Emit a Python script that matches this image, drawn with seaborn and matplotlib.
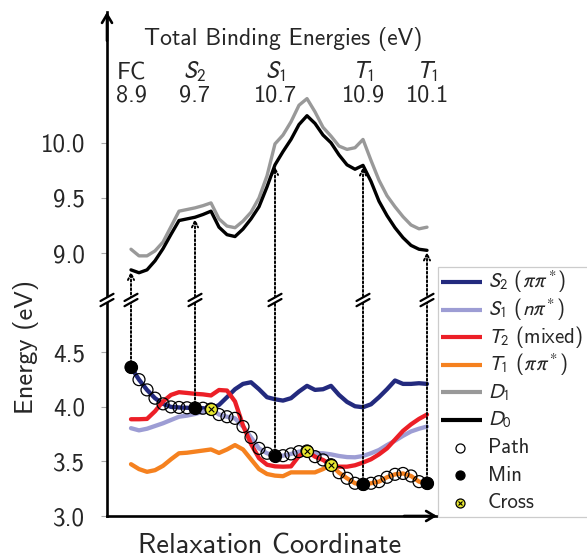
import numpy as np
import pandas as pd
import matplotlib
matplotlib.use("Agg")
import matplotlib.pyplot as plt
import matplotlib.transforms as mtransforms
from matplotlib.lines import Line2D
from matplotlib.patches import ConnectionPatch, Polygon, Rectangle
import seaborn as sns

# ---------------- data ----------------
coord = list(range(38))

S2 = [4.364, 4.25, 4.156, 4.08, 4.028, 4.0, 3.995, 3.992, 3.99, 3.988, 3.98, 4.018, 4.089,
      4.162, 4.211, 4.226, 4.162, 4.089, 4.07, 4.058, 4.08, 4.141, 4.193, 4.156, 4.162,
      4.193, 4.11, 4.046, 4.006, 3.997, 4.024, 4.089, 4.162, 4.242, 4.211, 4.211, 4.217, 4.211]
S1 = [3.805, 3.785, 3.80, 3.825, 3.85, 3.88, 3.91, 3.92, 3.935, 3.955, 3.98, 3.93, 3.91,
      3.895, 3.82, 3.72, 3.62, 3.575, 3.553, 3.553, 3.569, 3.59, 3.596, 3.578, 3.575,
      3.565, 3.55, 3.54, 3.538, 3.55, 3.575, 3.605, 3.65, 3.69, 3.735, 3.775, 3.80, 3.82]
T2 = [3.887, 3.887, 3.89, 3.96, 4.05, 4.11, 4.135, 4.128, 4.12, 4.115, 4.105, 4.155, 4.15,
      4.05, 3.83, 3.66, 3.53, 3.47, 3.455, 3.452, 3.455, 3.55, 3.596, 3.544, 3.514,
      3.47, 3.452, 3.452, 3.465, 3.49, 3.52, 3.565, 3.62, 3.70, 3.78, 3.84, 3.89, 3.93]
T1 = [3.475, 3.43, 3.405, 3.42, 3.46, 3.52, 3.575, 3.58, 3.59, 3.60, 3.61, 3.578, 3.61,
      3.65, 3.61, 3.52, 3.43, 3.385, 3.37, 3.365, 3.40, 3.40, 3.40, 3.40, 3.43,
      3.47, 3.397, 3.346, 3.30, 3.29, 3.30, 3.315, 3.355, 3.382, 3.39, 3.367, 3.315, 3.30]
D1 = [9.035, 8.975, 8.975, 9.02, 9.10, 9.24, 9.38, 9.395, 9.41, 9.43, 9.455, 9.31, 9.245,
      9.23, 9.29, 9.37, 9.50, 9.70, 9.99, 10.07, 10.19, 10.34, 10.40, 10.28, 10.14,
      10.06, 9.97, 9.94, 9.955, 10.03, 9.84, 9.66, 9.52, 9.42, 9.33, 9.255, 9.22, 9.235]
D0 = [8.848, 8.822, 8.848, 8.93, 9.04, 9.17, 9.295, 9.31, 9.325, 9.35, 9.38, 9.235, 9.167,
      9.15, 9.218, 9.31, 9.42, 9.60, 9.80, 9.92, 10.03, 10.165, 10.245, 10.175, 10.07,
      10.0, 9.89, 9.80, 9.76, 9.795, 9.65, 9.47, 9.34, 9.23, 9.14, 9.07, 9.035, 9.025]

# state followed by the relaxation path at each point
path_state = ["S2"] * 10 + ["S1"] * 12 + ["T2"] * 3 + ["T1"] * 13
min_idx = [0, 8, 18, 29, 37]
cross_idx = [10, 22, 25]
min_labels = ["FC", "$S_2$", "$S_1$", "$T_1$", "$T_1$"]
binding = ["8.9", "9.7", "10.7", "10.9", "10.1"]

low_states = ["S2", "S1", "T2", "T1"]
up_states = ["D1", "D0"]
legend_labels = {"S2": r"$S_2$ ($\pi\pi^*$)", "S1": r"$S_1$ ($n\pi^*$)",
                 "T2": r"$T_2$ (mixed)", "T1": r"$T_1$ ($\pi\pi^*$)",
                 "D1": r"$D_1$", "D0": r"$D_0$"}
marker_labels = ["Path", "Min", "Cross"]

colors = {"S2": "#232a7e", "S1": "#9d9dd4", "T2": "#ec1f27", "T1": "#f5811f",
          "D1": "#999999", "D0": "#000000"}
cross_color = "#e8e830"

series = {"S2": S2, "S1": S1, "T2": T2, "T1": T1, "D1": D1, "D0": D0}

df = pd.concat([pd.DataFrame({"coord": coord, "energy": series[s], "state": s})
                for s in series], ignore_index=True)
path_df = pd.DataFrame({"coord": coord,
                        "energy": [series[s][i] for i, s in zip(coord, path_state)],
                        "state": path_state})
min_df = path_df.iloc[min_idx]
cross_df = path_df.iloc[cross_idx]

# ---------------- style ----------------
sns.set_theme(style="white")
plt.rcParams["font.family"] = ["cmss10", "DejaVu Sans"]
plt.rcParams["mathtext.fontset"] = "stixsans"
plt.rcParams["axes.unicode_minus"] = False
plt.rcParams["axes.formatter.use_mathtext"] = True

W, H = 587, 557
fig = plt.figure(figsize=(W / 100, H / 100), dpi=100)

def fx(x):
    return x / W

def fy(y):
    return 1 - y / H

left, right = 107, 437
y_break, y_bottom, y_top = 300, 516, 12

ax_low = fig.add_axes([fx(left), fy(y_bottom), fx(right - left), (y_bottom - y_break) / H])
ax_up = fig.add_axes([fx(left), fy(y_break), fx(right - left), (y_break - y_top) / H])

xlim = (-3, 38.25)
for ax in (ax_low, ax_up):
    ax.set_xlim(*xlim)
    ax.set_xticks([])
    ax.patch.set_alpha(0)
    for sp in ax.spines.values():
        sp.set_linewidth(1.9)
        sp.set_color("black")
    ax.spines["top"].set_visible(False)
    ax.spines["right"].set_visible(False)
    ax.tick_params(axis="y", direction="out", length=4, width=0.8, color="#aaaaaa",
                   labelsize=18, pad=12, left=True)
ax_up.spines["bottom"].set_visible(False)

ax_low.set_ylim(3.0, 4.98)
ax_low.set_yticks([3.0, 3.5, 4.0, 4.5])
ax_low.set_yticklabels(["3.0", "3.5", "4.0", "4.5"])
ax_up.set_ylim(8.575, 11.185)
ax_up.set_yticks([9.0, 9.5, 10.0])
ax_up.set_yticklabels(["9.0", "9.5", "10.0"])

# lines
sns.lineplot(data=df[df.state.isin(low_states)], x="coord", y="energy", hue="state",
             hue_order=low_states, palette=colors, linewidth=3.1, ax=ax_low,
             legend=False, sort=False, zorder=2)
sns.lineplot(data=df[df.state.isin(up_states)], x="coord", y="energy", hue="state",
             hue_order=up_states, palette=colors, linewidth=2.4, ax=ax_up,
             legend=False, sort=False, zorder=2)

# path markers
msize = 74
sns.scatterplot(data=path_df, x="coord", y="energy", ax=ax_low, s=msize, marker="o",
                facecolor="none", edgecolor="black", linewidth=0.9, zorder=4, legend=False)
sns.scatterplot(data=min_df, x="coord", y="energy", ax=ax_low, s=msize, marker="o",
                color="black", edgecolor="black", linewidth=0.9, zorder=5, legend=False)
sns.scatterplot(data=cross_df, x="coord", y="energy", ax=ax_low, s=msize, marker="o",
                color=cross_color, edgecolor="black", linewidth=0.9, zorder=5, legend=False)
sns.scatterplot(data=cross_df, x="coord", y="energy", ax=ax_low, s=16, marker="x",
                color="black", linewidth=0.8, zorder=6, legend=False)
for ax in (ax_low, ax_up):
    ax.set_xlabel("")
    ax.set_ylabel("")

# dotted arrows from minima up to D0
for i in min_idx:
    con = ConnectionPatch(xyA=(i, path_df.energy[i]), coordsA=ax_low.transData,
                          xyB=(i, D0[i] - 0.015), coordsB=ax_up.transData,
                          arrowstyle="->,head_length=0.45,head_width=0.22",
                          linestyle=(0, (1, 1.2)), linewidth=1.4, color="black",
                          shrinkA=0, shrinkB=0, zorder=3)
    fig.add_artist(con)

# break marks
def break_mark(xp, yp):
    dx, dy, gap = 6.5, 3.6, 2.6
    l1 = [(xp - dx, yp + gap + dy), (xp + dx, yp + gap - dy)]
    l2 = [(xp - dx, yp - gap + dy), (xp + dx, yp - gap - dy)]
    poly = Polygon([(fx(a), fy(b)) for a, b in [l1[0], l1[1], l2[1], l2[0]]],
                   closed=True, transform=fig.transFigure, facecolor="white",
                   edgecolor="none", zorder=7)
    fig.add_artist(poly)
    for l in (l1, l2):
        fig.add_artist(Line2D([fx(l[0][0]), fx(l[1][0])], [fy(l[0][1]), fy(l[1][1])],
                              transform=fig.transFigure, color="black", lw=1.6, zorder=8))

for i in min_idx:
    xd = ax_low.transData.transform((i, 3.0))[0]
    break_mark(xd, y_break)
break_mark(left, y_break)

# axis arrows
ax_up.annotate("", xy=(0, 1), xycoords="axes fraction", xytext=(0, 0.9),
               arrowprops=dict(arrowstyle="->,head_length=0.5,head_width=0.3", lw=1.9,
                               color="black", shrinkA=0, shrinkB=0), annotation_clip=False)
ax_low.annotate("", xy=(1, 0), xycoords="axes fraction", xytext=(0.9, 0),
                arrowprops=dict(arrowstyle="->,head_length=0.5,head_width=0.3", lw=1.9,
                                color="black", shrinkA=0, shrinkB=0), annotation_clip=False)

# header texts
tr = mtransforms.blended_transform_factory(ax_up.transData, fig.transFigure)
fig.text(fx(283), fy(45), "Total Binding Energies (eV)", ha="center", va="baseline",
         fontsize=17)
for i, lab, val in zip(min_idx, min_labels, binding):
    ax_up.text(i, fy(79), lab, transform=tr, ha="center", va="baseline", fontsize=17.5)
    ax_up.text(i, fy(101), val, transform=tr, ha="center", va="baseline", fontsize=17.5)

fig.text(fx(26), fy(347), "Energy (eV)", rotation=90, ha="center", va="center", fontsize=19)
fig.text(fx(270), fy(553), "Relaxation Coordinate", ha="center", va="baseline",
         fontsize=20.5)

# legend (drawn as a framed key to the right of the axes)
row0, drow = 282, 27.6
fig.add_artist(Rectangle((fx(438), fy(517)), fx(160), (517 - 267) / H,
                         transform=fig.transFigure, facecolor="white",
                         edgecolor="#cccccc", lw=0.9, zorder=9, clip_on=False))
entries = [(legend_labels[s], "line", colors[s]) for s in low_states + up_states]
entries += [(marker_labels[0], "path", None), (marker_labels[1], "min", None),
            (marker_labels[2], "cross", None)]
for k, (lab, kind, col) in enumerate(entries):
    yc = row0 + drow * k
    if kind == "line":
        fig.add_artist(Line2D([fx(441), fx(482)], [fy(yc), fy(yc)], transform=fig.transFigure,
                              color=col, lw=3.0, solid_capstyle="butt", zorder=10))
    else:
        fc = {"path": "white", "min": "black", "cross": cross_color}[kind]
        fig.add_artist(Line2D([fx(460)], [fy(yc)], transform=fig.transFigure, ls="none",
                              marker="o", markersize=6.5, markerfacecolor=fc,
                              markeredgecolor="black", markeredgewidth=0.9, zorder=10))
        if kind == "cross":
            fig.add_artist(Line2D([fx(460)], [fy(yc)], transform=fig.transFigure, ls="none",
                                  marker="x", markersize=3.2, markeredgecolor="black",
                                  markeredgewidth=0.8, zorder=11))
    fig.text(fx(488), fy(yc), lab, ha="left", va="center", fontsize=15, zorder=10)

fig.savefig("out.png", dpi=100)
